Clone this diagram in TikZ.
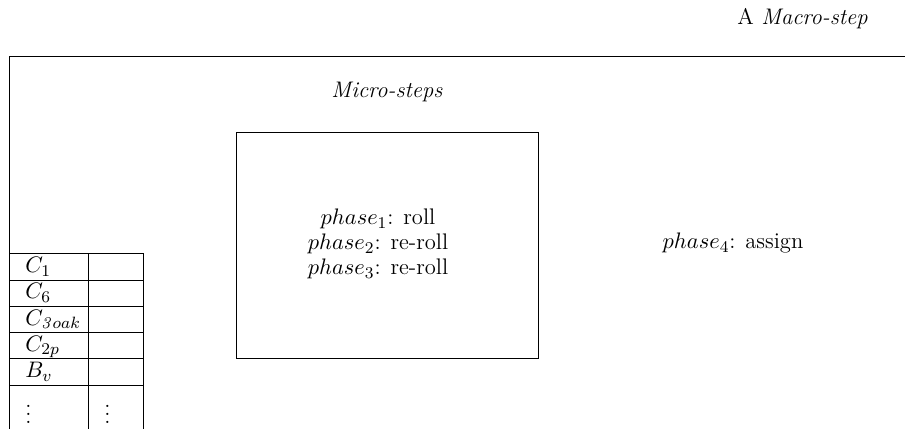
\documentclass[tikz,border=0pt]{standalone}
\begin{document}
\begin{tikzpicture}[
  x=0.488pt, y=-0.488pt,
  font=\fontsize{11}{12.2}\selectfont,
  frame/.style={draw, inner sep=0pt, anchor=north west},
  label/.style={inner sep=0pt, anchor=base},
  cellA/.style={frame, minimum width=78.4*0.488pt, minimum height=26.3*0.488pt},
  cellB/.style={frame, minimum width=55*0.488pt, minimum height=26.3*0.488pt},
  celltext/.style={inner sep=0pt, anchor=base west},
]
\useasboundingbox (0,0) rectangle (905,429);
\clip (0,0) rectangle (905,429);

% the macro-step frame runs off the right and bottom edges
\node[frame, minimum width=950*0.488pt, minimum height=420*0.488pt] (macro) at (9.3,56) {};
\node[label, anchor=base east] (macrolabel) at (868,25) {A \textit{Macro-step}};

% micro-steps box
\node[label] (microlabel) at (387,98) {\textit{Micro-steps}};
\node[frame, minimum width=302*0.488pt, minimum height=226*0.488pt] (micro) at (236,131.7) {};
% base of a multi-line node sits on its last line
\node[label, align=center] (phases) at (378,275) {$phase_1$: roll\\ $phase_2$: re-roll\\ $phase_3$: re-roll};

\node[label] (assign) at (733,249) {$phase_4$: assign};

% categories table
\foreach \i/\y in {1/253.3, 2/279.6, 3/305.9, 4/332.2, 5/358.5} {
  \node[cellA] (a\i) at (9.3,\y) {};
  \node[cellB] (b\i) at (87.7,\y) {};
}
\node[cellA, minimum height=80*0.488pt] (a6) at (9.3,384.8) {};
\node[cellB, minimum height=80*0.488pt] (b6) at (87.7,384.8) {};

\node[celltext] (t1) at (25,272.7) {$C_1$};
\node[celltext] (t2) at (25,299.0) {$C_6$};
\node[celltext] (t3) at (25,325.3) {$C_{\mathit{3}oak}$};
\node[celltext] (t4) at (25,351.6) {$C_{2p}$};
\node[celltext] (t5) at (25,377.9) {$B_v$};
\node[celltext] (d1) at (25,424) {$\vdots$};
\node[celltext] (d2) at (104,424) {$\vdots$};
\end{tikzpicture}
\end{document}
